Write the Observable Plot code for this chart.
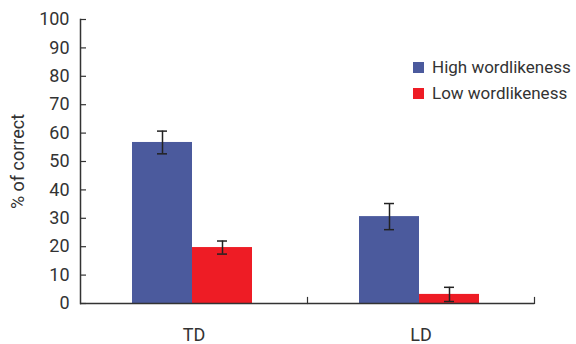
<!DOCTYPE html>
<html>
<head>
<meta charset="utf-8">
<script src="https://cdn.jsdelivr.net/npm/d3@7"></script>
<script src="https://cdn.jsdelivr.net/npm/@observablehq/plot@0.6"></script>
<style>
  html, body { margin: 0; padding: 0; background: #fff; }
  #wrap { position: relative; width: 576px; height: 344px; font-family: Roboto, sans-serif; }
  .legend { position: absolute; left: 413px; top: 54px; color: #333; font-size: 17px; }
  .legend .item { display: flex; align-items: center; height: 26px; }
  .legend .sw { width: 11px; height: 11px; margin-right: 8px; }
</style>
</head>
<body>
<div id="wrap"></div>
<script>
const groups = ["TD", "LD"];
const conditions = ["High wordlikeness", "Low wordlikeness"];
const highValues = [56.7, 30.6];
const lowValues = [19.7, 3.2];
const highErr = [4.0, 4.6];
const lowErr = [2.3, 2.5];
const yTicks = [0, 10, 20, 30, 40, 50, 60, 70, 80, 90, 100];
const colors = ["#4b5a9d", "#ee1c25"];

const rows = groups.flatMap((g, i) => [
  {group: g, cond: conditions[0], value: highValues[i], err: highErr[i]},
  {group: g, cond: conditions[1], value: lowValues[i], err: lowErr[i]}
]);

const ink = "#333";
const chart = Plot.plot({
  width: 576,
  height: 344,
  marginLeft: 79,
  marginRight: 42,
  marginTop: 19,
  marginBottom: 41,
  style: {fontFamily: "Roboto, sans-serif", fontSize: "17px", color: ink, background: "#fff"},
  fx: {domain: groups, padding: 0},
  x: {domain: conditions, paddingInner: 0, paddingOuter: 0.885, align: 0.49, axis: null},
  y: {domain: [0, 100]},
  color: {domain: conditions, range: colors},
  marks: [
    Plot.barY(rows, {fx: "group", x: "cond", y: "value", fill: "cond", inset: 0}),
    Plot.ruleX(rows, {fx: "group", x: "cond", y1: d => d.value - d.err, y2: d => d.value + d.err, stroke: "#222", strokeWidth: 1.5}),
    Plot.tickY(rows, {fx: "group", x: "cond", y: d => d.value + d.err, insetLeft: 25, insetRight: 25, stroke: "#222", strokeWidth: 1.5}),
    Plot.tickY(rows, {fx: "group", x: "cond", y: d => d.value - d.err, insetLeft: 25, insetRight: 25, stroke: "#222", strokeWidth: 1.5}),
    Plot.ruleY([0], {stroke: ink, strokeWidth: 1.5}),
    Plot.frame({anchor: "right", insetTop: 278, stroke: ink, strokeWidth: 1.2}),
    Plot.frame({anchor: "left", facet: "super", stroke: ink, strokeWidth: 1.5}),
    Plot.axisY({ticks: yTicks, tickSize: -6, tickPadding: 17, tickFormat: d => String(d), fontSize: 18, label: "% of correct", labelAnchor: "center", labelOffset: 69, labelArrow: "none", stroke: ink, strokeWidth: 1.2}),
    Plot.axisFx({anchor: "bottom", tickSize: 0, tickPadding: 25, fontSize: 18, label: null})
  ]
});

const wrap = document.getElementById("wrap");
wrap.appendChild(chart);
const legend = document.createElement("div");
legend.className = "legend";
conditions.forEach((c, i) => {
  const item = document.createElement("div");
  item.className = "item";
  const sw = document.createElement("span");
  sw.className = "sw";
  sw.style.background = colors[i];
  const label = document.createElement("span");
  label.textContent = c;
  item.appendChild(sw);
  item.appendChild(label);
  legend.appendChild(item);
});
wrap.appendChild(legend);
</script>
</body>
</html>
